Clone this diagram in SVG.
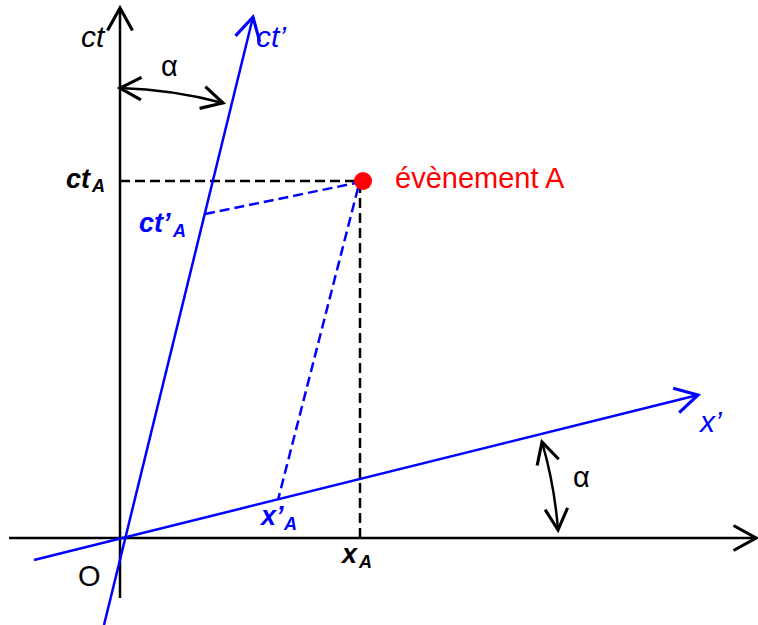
<svg xmlns="http://www.w3.org/2000/svg" width="758" height="625" viewBox="0 0 758 625">
<style>
.ax{stroke:#000;stroke-width:2.5;fill:none}
.bl{stroke:#0000ff;stroke-width:2.5;fill:none}
.dk{stroke:#000;stroke-width:2.5;fill:none;stroke-dasharray:10 5}
.db{stroke:#0000ff;stroke-width:2.5;fill:none;stroke-dasharray:10 5}
text{font-family:"Liberation Sans",Arial,sans-serif}
.it{font-style:italic}
.bi{font-style:italic;font-weight:bold}
</style>
<defs>
<marker id="ak" markerUnits="userSpaceOnUse" markerWidth="30" markerHeight="30" viewBox="-20 -12 24 24" refX="0" refY="0" orient="auto-start-reverse">
<path d="M-18,-10 L0,0 L-18,10" fill="none" stroke="#000" stroke-width="2.5"/>
</marker>
<marker id="ab" markerUnits="userSpaceOnUse" markerWidth="30" markerHeight="30" viewBox="-20 -12 24 24" refX="0" refY="0" orient="auto">
<path d="M-18,-10 L0,0 L-18,10" fill="none" stroke="#0000ff" stroke-width="2.5"/>
</marker>
<marker id="aa" markerUnits="userSpaceOnUse" markerWidth="30" markerHeight="30" viewBox="-20 -12 24 24" refX="0" refY="0" orient="auto-start-reverse">
<path d="M-17,-9 L0,0 L-17,9" fill="none" stroke="#000" stroke-width="2.5"/>
</marker>
</defs>
<g id="connectors">
<line class="dk" x1="120" y1="181" x2="356" y2="181"/>
<line class="dk" x1="360" y1="183" x2="360" y2="538"/>
<line class="db" x1="205" y1="214" x2="356" y2="183"/>
<line class="db" x1="358" y1="188" x2="278" y2="500"/>
<path d="M120,88 A450,450 0 0,1 223,103" stroke="#000" stroke-width="2.5" fill="none" marker-start="url(#aa)" marker-end="url(#aa)"/>
<path d="M542,442 A433,433 0 0,1 558,530" stroke="#000" stroke-width="2.5" fill="none" marker-start="url(#aa)" marker-end="url(#aa)"/>
</g>
<g id="axis-x">
<line class="ax" x1="9" y1="538" x2="756" y2="538" marker-end="url(#ak)"/>
</g>
<g id="axis-ct">
<line class="ax" x1="120" y1="598" x2="120" y2="8" marker-end="url(#ak)"/>
<text x="81" y="47" font-size="30" class="it">ct</text>
</g>
<g id="axis-ctp">
<line class="bl" x1="104" y1="625" x2="253" y2="17" marker-end="url(#ab)"/>
<text x="256" y="47" font-size="30" class="it" fill="#0000ff">ct’</text>
</g>
<g id="axis-xp">
<line class="bl" x1="34" y1="560" x2="698" y2="395" marker-end="url(#ab)"/>
<text x="700" y="432" font-size="30" class="it" fill="#0000ff">x’</text>
</g>
<g id="labels">
<text x="161" y="76" font-size="29">α</text>
<text x="573" y="487" font-size="29">α</text>
<text x="78" y="586" font-size="29">O</text>
<g id="label-ctA"><text x="66" y="188" font-size="27" class="bi">ct</text><text x="92" y="192" font-size="18" class="bi">A</text></g>
<g id="label-ctpA" fill="#0000ff"><text x="139" y="232" font-size="27" class="bi">ct’</text><text x="173" y="237" font-size="18" class="bi">A</text></g>
<g id="label-xpA" fill="#0000ff"><text x="261" y="525" font-size="27" class="bi">x’</text><text x="284" y="530" font-size="18" class="bi">A</text></g>
<g id="label-xA"><text x="342" y="563" font-size="27" class="bi">x</text><text x="359" y="568" font-size="18" class="bi">A</text></g>
</g>
<g id="event-A">
<circle cx="363" cy="181" r="9" fill="#ff0000"/>
<text x="395" y="188" font-size="29" fill="#ff0000">évènement A</text>
</g>
</svg>
